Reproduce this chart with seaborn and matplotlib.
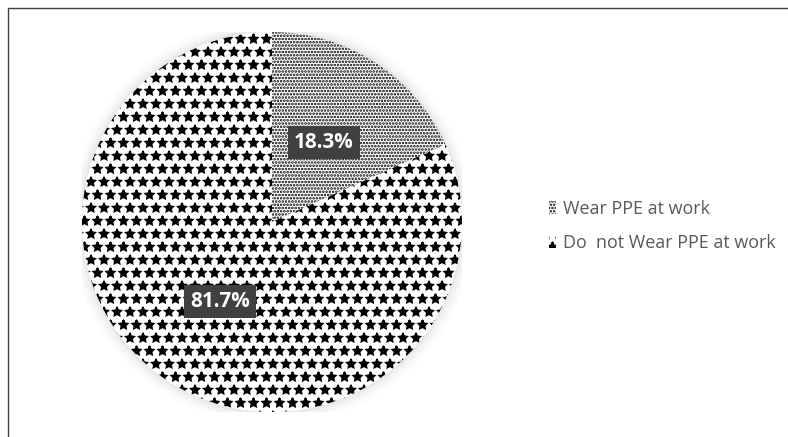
import matplotlib
matplotlib.use('Agg')
import matplotlib.pyplot as plt
import seaborn as sb
from matplotlib.patches import Rectangle, Patch, Circle

# data
labels = ['Wear PPE at work', 'Do  not Wear PPE at work']
shares = [18.3, 81.7]
hatches = ['....', '*']

sb.set_theme(style='white')
plt.rcParams['font.family'] = ['Open Sans', 'DejaVu Sans']
plt.rcParams['hatch.linewidth'] = 1.6

DPI = 78
fig = plt.figure(figsize=(788 / DPI, 437 / DPI), dpi=DPI)
fig.patch.set_facecolor('white')

# pie axes: centre ~ (272, 222) px, radius ~ 190 px
ax = fig.add_axes([(272 - 190) / 788, (437 - 222 - 190) / 437, 380 / 788, 380 / 437])
wedges, texts, autotexts = ax.pie(
    shares, startangle=90, counterclock=False,
    colors=['white', 'white'], autopct='%1.1f%%', pctdistance=0.5,
    wedgeprops={'edgecolor': 'black', 'linewidth': 0},
    textprops={'color': 'white', 'fontsize': 19, 'fontweight': 'bold'})
for w, h in zip(wedges, hatches):
    w.set_hatch(h)
for t in autotexts:
    t.set_bbox(dict(boxstyle='square,pad=0.3', facecolor='#404040', edgecolor='none'))

# soft glow round the pie
for r, c in [(1.06, '#fafafa'), (1.035, '#f3f3f3'), (1.015, '#eaeaea')]:
    ax.add_patch(Circle((0, 0), r, facecolor=c, edgecolor='none', zorder=0))
ax.set_xlim(-1, 1)
ax.set_ylim(-1, 1)
ax.set_aspect('equal')

# legend
handles = [Patch(facecolor='white', edgecolor='black', linewidth=0, hatch=h) for h in hatches]
fig.legend(handles, labels, loc='center left', bbox_to_anchor=(533 / 788, 1 - 226 / 437),
           frameon=False, fontsize=16.5, labelcolor='#595959',
           handlelength=0.4, handleheight=0.7, handletextpad=0.4, labelspacing=0.9)

# chart border (top and left edges visible)
fig.add_artist(Rectangle((8 / 788, -0.1), 1.2, 1.1 - 8 / 437, transform=fig.transFigure,
                         fill=False, edgecolor='#404040', linewidth=1.3))

fig.savefig('out.png', dpi=DPI, facecolor='white')
